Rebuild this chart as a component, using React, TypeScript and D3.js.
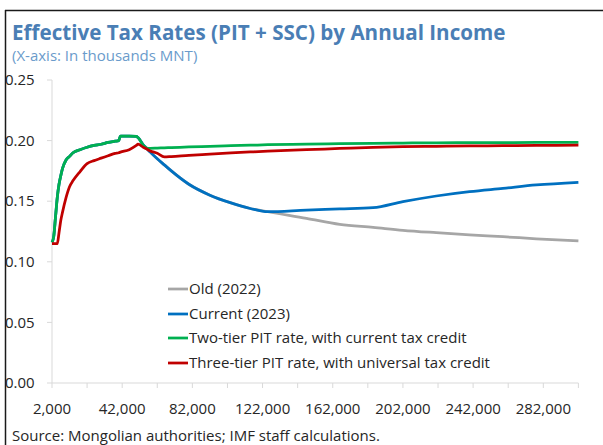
import React from 'react';
import * as d3 from 'd3';

// Annual income (thousands MNT)
const incomes = [2000, 3000, 4000, 5000, 6000, 7000, 8000, 10000, 12000, 14000, 18000, 22000, 26000, 30000, 34000, 38000, 40000, 41000, 46000, 50000, 51000, 54000, 56000, 58000, 62000, 66000, 70000, 80000, 92000, 104000, 115000, 125000, 147000, 166000, 185000, 202000, 221000, 240000, 259000, 278000, 302000];

const twoTierRates = [0.116, 0.121, 0.137, 0.153, 0.164, 0.171, 0.177, 0.184, 0.187, 0.190, 0.1925, 0.1945, 0.196, 0.197, 0.1985, 0.1995, 0.200, 0.2037, 0.2037, 0.2035, 0.2025, 0.1962, 0.1938, 0.1936, 0.1938, 0.194, 0.1942, 0.1948, 0.1953, 0.1958, 0.1962, 0.1966, 0.1971, 0.1975, 0.1978, 0.198, 0.1982, 0.1983, 0.1984, 0.1985, 0.1986];

const currentRates = [0.116, 0.121, 0.137, 0.153, 0.164, 0.171, 0.177, 0.184, 0.187, 0.190, 0.1925, 0.1945, 0.196, 0.197, 0.1985, 0.1995, 0.200, 0.2037, 0.2037, 0.2035, 0.2025, 0.1965, 0.1935, 0.1905, 0.185, 0.18, 0.175, 0.164, 0.155, 0.1486, 0.144, 0.1413, 0.1427, 0.1436, 0.1446, 0.1496, 0.1543, 0.1579, 0.1606, 0.1634, 0.1656];

const oldRates = [0.116, 0.121, 0.137, 0.153, 0.164, 0.171, 0.177, 0.184, 0.187, 0.190, 0.1925, 0.1945, 0.196, 0.197, 0.1985, 0.1995, 0.200, 0.2037, 0.2037, 0.2035, 0.2025, 0.1965, 0.1935, 0.1905, 0.185, 0.18, 0.175, 0.164, 0.155, 0.1486, 0.144, 0.1413, 0.1359, 0.1309, 0.1284, 0.126, 0.124, 0.1222, 0.1207, 0.119, 0.1172];

const threeTierRates = [0.115, 0.115, 0.115, 0.115, 0.124, 0.134, 0.141, 0.153, 0.162, 0.167, 0.1745, 0.181, 0.1835, 0.1855, 0.1875, 0.1895, 0.190, 0.1905, 0.1925, 0.196, 0.197, 0.1945, 0.193, 0.1915, 0.1895, 0.1865, 0.1868, 0.1878, 0.1888, 0.1898, 0.1906, 0.1913, 0.1925, 0.1935, 0.1945, 0.195, 0.1953, 0.1956, 0.1958, 0.196, 0.1962];

const seriesNames = ['Old (2022)', 'Current (2023)', 'Two-tier PIT rate, with current tax credit', 'Three-tier PIT rate, with universal tax credit'];
const seriesColors = ['#A6A6A6', '#0070C0', '#00B050', '#C00000'];

const yTicks = [0, 0.05, 0.1, 0.15, 0.2, 0.25];
const xTickMarks = [2000, 22000, 42000, 62000, 82000, 102000, 122000, 142000, 162000, 182000, 202000, 222000, 242000, 262000, 282000, 302000];
const xTickLabels = [2000, 42000, 82000, 122000, 162000, 202000, 242000, 282000];

const title = 'Effective Tax Rates (PIT + SSC) by Annual Income';
const subtitle = '(X-axis: In thousands MNT)';
const source = 'Source: Mongolian authorities; IMF staff calculations.';

const W = 603;
const H = 445;
const FONT = "'Segoe UI', 'Open Sans', 'Noto Sans', sans-serif";

export default function App() {
  const x = d3.scaleLinear().domain([2000, 302000]).range([52, 578.4]);
  const y = d3.scaleLinear().domain([0, 0.25]).range([383, 80]);
  const fmt = d3.format(',');

  const allSeries = [oldRates, currentRates, twoTierRates, threeTierRates];
  const line = (vals: number[]) =>
    d3
      .line<number>()
      .x((_, i) => x(incomes[i]))
      .y((d) => y(d))
      .curve(d3.curveMonotoneX)(vals) || '';

  const legendX = 168;
  const legendY = [289, 314, 338, 363];

  return (
    <svg
      width={W}
      height={H}
      style={{ position: 'absolute', left: 0, top: 0, background: '#fff' }}
      fontFamily={FONT}
    >
      <rect x={0} y={0} width={W} height={H} fill="#fff" />
      {/* frame */}
      <line x1={5} x2={W} y1={10.5} y2={10.5} stroke="#1a1a1a" strokeWidth={1.5} />
      <line x1={5.5} x2={5.5} y1={10} y2={H} stroke="#1a1a1a" strokeWidth={1.5} />

      <text x={12} y={40} fontSize={20.6} fontWeight={700} fill="#4A7EB5">
        {title}
      </text>
      <text x={12} y={61} fontSize={15} fill="#6A9BCB">
        {subtitle}
      </text>

      {/* y axis */}
      <line x1={52} x2={52} y1={y(0.25)} y2={y(0)} stroke="#D9D9D9" strokeWidth={1} />
      {yTicks.map((t) => (
        <g key={t}>
          <line x1={47} x2={52} y1={y(t)} y2={y(t)} stroke="#D9D9D9" />
          <text x={5} y={y(t)} dy="0.35em" fontSize={15} fill="#262626">
            {t.toFixed(2)}
          </text>
        </g>
      ))}

      {/* x axis */}
      <line x1={52} x2={x(302000)} y1={y(0)} y2={y(0)} stroke="#D9D9D9" strokeWidth={1} />
      {xTickMarks.map((t) => (
        <line key={t} x1={x(t)} x2={x(t)} y1={y(0)} y2={y(0) + 5} stroke="#D9D9D9" />
      ))}
      {xTickLabels.map((t) => (
        <text key={t} x={x(t)} y={409} dy="0.35em" textAnchor="middle" fontSize={15} fill="#262626">
          {fmt(t)}
        </text>
      ))}

      {/* series */}
      {allSeries.map((vals, i) => (
        <path
          key={i}
          d={line(vals)}
          fill="none"
          stroke={seriesColors[i]}
          strokeWidth={2.75}
          strokeLinejoin="round"
        />
      ))}

      {/* legend */}
      {seriesNames.map((name, i) => (
        <g key={name}>
          <line
            x1={legendX}
            x2={legendX + 20}
            y1={legendY[i]}
            y2={legendY[i]}
            stroke={seriesColors[i]}
            strokeWidth={2.75}
          />
          <text x={legendX + 21} y={legendY[i]} dy="0.35em" fontSize={15} fill="#262626">
            {name}
          </text>
        </g>
      ))}

      <text x={12} y={441} fontSize={15} fill="#262626">
        {source}
      </text>
    </svg>
  );
}
